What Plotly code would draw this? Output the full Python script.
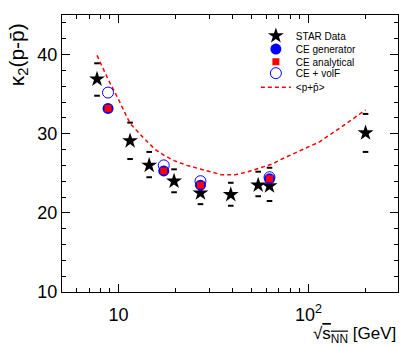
import plotly.graph_objects as go

# STAR net-proton kappa2
star_e = [7.7, 11.5, 14.5, 19.6, 27, 39, 54.4, 62.4, 200]
star_k2 = [36.9, 29.1, 26.0, 24.0, 22.5, 22.3, 23.5, 23.4, 30.1]
star_hi = [38.9, 31.4, 27.7, 25.5, 23.7, 23.8, 25.2, 25.7, 32.5]
star_lo = [34.8, 26.8, 24.5, 22.6, 21.1, 20.9, 22.1, 21.5, 27.7]

# canonical ensemble points
ce_e = [8.8, 17.3, 27, 62.4]
ce_gen = [33.2, 25.3, 23.5, 24.3]
ce_ana = [33.2, 25.3, 23.5, 24.3]
ce_volf = [35.2, 26.0, 24.0, 24.5]

# <p + pbar> curve
mean_e = [7.7, 8.8, 10, 11.5, 13.5, 15.6, 17.3, 19.6, 22.9, 25.3, 29.8, 35, 41, 48,
          56, 65, 71, 90, 115, 146, 186, 200]
mean_k2 = [39.9, 36.9, 34.3, 31.3, 29.5, 28.0, 27.3, 26.6, 26.0, 25.7, 25.2, 24.8, 24.8,
           25.2, 25.7, 26.2, 26.7, 27.8, 29.0, 30.7, 32.4, 33.0]

FONT = "Liberation Sans, Arial, sans-serif"

fig = go.Figure()

# stat error ends, drawn as small dashes like the original
fig.add_trace(go.Scatter(
    x=star_e + star_e, y=star_hi + star_lo, mode="markers",
    marker=dict(symbol="line-ew", size=4, line=dict(color="black", width=2)),
    showlegend=False, hoverinfo="skip"))

fig.add_trace(go.Scatter(
    x=mean_e, y=mean_k2, mode="lines", name="&lt;p+p\u0304&gt;",
    line=dict(color="#ff0000", width=1.5, dash="4px,3px"), legend="legend5"))

fig.add_trace(go.Scatter(
    x=star_e, y=star_k2, mode="markers", name="STAR Data",
    marker=dict(symbol="star", size=12, color="black"), legend="legend"))

fig.add_trace(go.Scatter(
    x=ce_e, y=ce_volf, mode="markers", name="CE + volF",
    marker=dict(symbol="circle-open", size=11, color="#0000ff", line=dict(width=1)),
    legend="legend4"))

fig.add_trace(go.Scatter(
    x=ce_e, y=ce_gen, mode="markers", name="CE generator",
    marker=dict(symbol="circle", size=11, color="#0000ff"), legend="legend2"))

fig.add_trace(go.Scatter(
    x=ce_e, y=ce_ana, mode="markers", name="CE analytical",
    marker=dict(symbol="square", size=7, color="#ff0000"), legend="legend3"))

# one legend per entry so the rows can sit close together like ROOT's TLegend
leg_rows = {"legend": 0.925, "legend2": 0.877, "legend3": 0.831,
            "legend4": 0.790, "legend5": 0.739}
for key, ypos in leg_rows.items():
    fig.update_layout({key: dict(x=0.577, y=ypos, xanchor="left", yanchor="middle",
                                 bgcolor="rgba(0,0,0,0)", borderwidth=0,
                                 font=dict(family=FONT, size=10, color="black"))})

x_minor = [6, 7, 8, 9, 20, 30, 40, 50, 60, 70, 80, 90, 200, 300]
y_minor = [12, 14, 16, 18, 22, 24, 26, 28, 32, 34, 36, 38, 42, 44]

fig.update_xaxes(
    type="log", range=[0.702, 2.472], automargin=False,
    tickvals=[10, 100], ticktext=["10", "10<sup>2</sup>"],
    ticks="inside", ticklen=8, tickcolor="black", mirror="allticks",
    showline=True, linecolor="black", linewidth=1, showgrid=False, zeroline=False,
    ticklabelstandoff=6,
    minor=dict(ticks="inside", ticklen=4, tickcolor="black", tickvals=x_minor),
    tickfont=dict(family=FONT, size=18, color="black"))
fig.update_yaxes(
    range=[10, 45], tickvals=[10, 20, 30, 40], automargin=False,
    ticks="inside", ticklen=8, tickcolor="black", mirror="allticks",
    showline=True, linecolor="black", linewidth=1, showgrid=False, zeroline=False,
    minor=dict(ticks="inside", ticklen=4, tickcolor="black", tickvals=y_minor),
    tickfont=dict(family=FONT, size=18, color="black"))

fig.add_annotation(
    text="\u221a<span style='text-decoration:overline'>s<sub>NN</sub></span> [GeV]",
    xref="paper", yref="paper", x=1.0, y=-0.155, xanchor="right", yanchor="middle",
    showarrow=False, font=dict(family=FONT, size=17, color="black"))
fig.add_annotation(
    text="\u03ba<sub>2</sub>(p-p\u0304)", textangle=-90,
    xref="paper", yref="paper", x=-0.132, y=0.857, xanchor="center", yanchor="middle",
    showarrow=False, font=dict(family=FONT, size=21, color="black"))

fig.update_layout(
    width=411, height=348,
    margin=dict(l=62, r=13, t=15, b=56),
    plot_bgcolor="white", paper_bgcolor="white",
    font=dict(family=FONT, color="black"),
)

# drop the browser's default body margin so the figure sits at the page corner
fig.write_html("out.html", config={"displayModeBar": False},
               post_script="document.body.style.margin='0';")
